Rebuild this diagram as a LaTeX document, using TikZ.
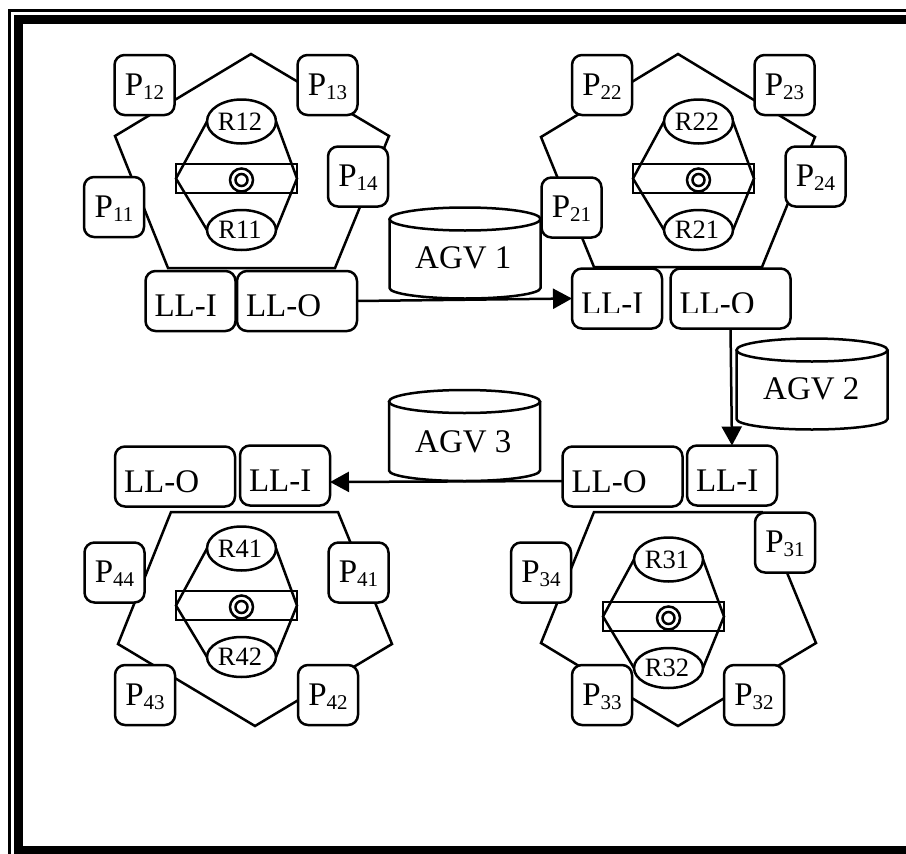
\documentclass[tikz,border=0pt]{standalone}
\usepackage{fontspec}
\setmainfont{Liberation Serif}
\usetikzlibrary{shapes.geometric,arrows.meta}
\newcommand\Pn[1]{P{\fontsize{21}{21}\selectfont\raisebox{-4pt}{#1}}}
\tikzset{
  x=1pt,y=-1pt,
  ln/.style={line width=2.5pt,line join=miter},
  pbox/.style={ln,draw,fill=white,rounded corners=10pt,inner sep=0pt,outer sep=0pt,
    text width=60pt,align=center,text height=40pt,text depth=20pt,font=\fontsize{33}{33}\selectfont},
  llbox/.style={ln,draw,fill=white,rounded corners=10pt,inner ysep=0pt,inner xsep=9pt,outer sep=0pt,
    align=left,text height=45.5pt,text depth=14.5pt,font=\fontsize{33}{33}\selectfont},
  lli/.style={llbox,text width=72pt},
  llo/.style={llbox,text width=102pt},
  rob/.style={ln,draw,fill=white,ellipse,inner sep=0pt,outer sep=0pt,minimum width=69pt,font=\fontsize{26.5}{26.5}\selectfont},
  arm/.style={ln,draw,rectangle,inner sep=0pt,outer sep=0pt,minimum width=121pt,minimum height=29pt},
  agvtxt/.style={anchor=base west,inner sep=0pt,font=\fontsize{33}{33}\selectfont},
  conn/.style={ln,-{Triangle[length=19pt,width=20pt]}},
}
\newcommand\robot[4]{%
  \node[arm] (arm#3) at ({#1-5},{#2}) {};
  \node[rob,minimum height=44pt] (#3) at ({#1},{#2-57}) {\kern-3pt #3};
  \node[rob,minimum height=40pt] (#4) at ({#1},{#2+51.5}) {\kern-3pt #4};
  \draw[ln] (#3.west) -- (arm#3.west) -- (#4.west);
  \draw[ln] (#3.east) -- (arm#3.east) -- (#4.east);
  \draw[ln] ({#1},{#2+1.5}) circle[radius=11.5pt];
  \draw[ln] ({#1},{#2+1.5}) circle[radius=6pt];
}
\newcommand\cyl[3]{%
  \draw[ln,fill=white] (#1,#2) -- (#1,{#2+69}) arc[start angle=180,end angle=360,x radius=75.5pt,y radius=10.5pt] -- ({#1+151},#2);
  \draw[ln,fill=white] ({#1+75.5},#2) circle[x radius=75.5pt,y radius=11.5pt];
}
\begin{document}
\begin{tikzpicture}
\useasboundingbox (0,0) rectangle (906,854);
% frame
\draw[line width=3pt] (906,10.5) -- (9,10.5) -- (9,854);
\draw[line width=9pt] (906,19.5) -- (18.5,19.5) -- (18.5,850.5) -- (906,850.5);
% chambers
\draw[ln] (251,54) -- (389,136) -- (335,268) -- (168,268) -- (115,136) -- cycle;
\draw[ln] (678,54) -- (815,137) -- (762,267) -- (594,267) -- (541,137) -- cycle;
\draw[ln] (594,512) -- (762,512) -- (816,643) -- (678,726) -- (541,643) -- cycle;
\draw[ln] (171,512) -- (338,512) -- (392,644) -- (255,726) -- (118,644) -- cycle;
% robots
\robot{241.5}{178.5}{R12}{R11}
\robot{698.5}{178.5}{R22}{R21}
\robot{668.5}{616.5}{R31}{R32}
\robot{241.5}{605.5}{R41}{R42}
% AGVs
\cyl{389.5}{219}{}
\node[agvtxt] (agv1) at (415,268) {AGV 1};
\cyl{736.5}{350}{}
\node[agvtxt] (agv2) at (763,399) {AGV 2};
\cyl{389}{401.5}{}
\node[agvtxt] (agv3) at (415,452) {AGV 3};
% process modules
\node[pbox] (p11) at (114,207) {\Pn{11}};
\node[pbox] (p12) at (144.5,85) {\Pn{12}};
\node[pbox] (p13) at (327.5,85) {\Pn{13}};
\node[pbox] (p14) at (358,176.5) {\Pn{14}};
\node[pbox] (p21) at (571.5,207.5) {\Pn{21}};
\node[pbox] (p22) at (602,85) {\Pn{22}};
\node[pbox] (p23) at (784.5,85) {\Pn{23}};
\node[pbox] (p24) at (815.5,176.5) {\Pn{24}};
\node[pbox] (p31) at (785,542.5) {\Pn{31}};
\node[pbox] (p32) at (754,695) {\Pn{32}};
\node[pbox] (p33) at (602,695) {\Pn{33}};
\node[pbox] (p34) at (541,572.5) {\Pn{34}};
\node[pbox] (p41) at (358.5,572.5) {\Pn{41}};
\node[pbox] (p42) at (328,695) {\Pn{42}};
\node[pbox] (p43) at (145,695) {\Pn{43}};
\node[pbox] (p44) at (114.5,572.5) {\Pn{44}};
% load locks
\node[lli] (lli1) at (190.5,301) {LL-I};
\node[llo] (llo1) at (297,301) {LL-O};
\node[lli] (lli2) at (617,298.5) {LL-I};
\node[llo] (llo2) at (730.5,298.5) {LL-O};
\node[lli] (lli3) at (732,475.5) {LL-I};
\node[llo] (llo3) at (622.5,476.5) {LL-O};
\node[lli] (lli4) at (285,475.5) {LL-I};
\node[llo] (llo4) at (175,476.5) {LL-O};
\fill[white] (575,312.5) rectangle (660,319);
\fill[white] (673,312.5) rectangle (788,319);
% transfers
\draw[conn] (llo1.east) -- (lli2.west);
\draw[conn] (llo2.south) -- (lli3.north);
\draw[conn] ([yshift=-4.5pt]llo3.west) -- ([yshift=-6.5pt]lli4.east);
\end{tikzpicture}
\end{document}
